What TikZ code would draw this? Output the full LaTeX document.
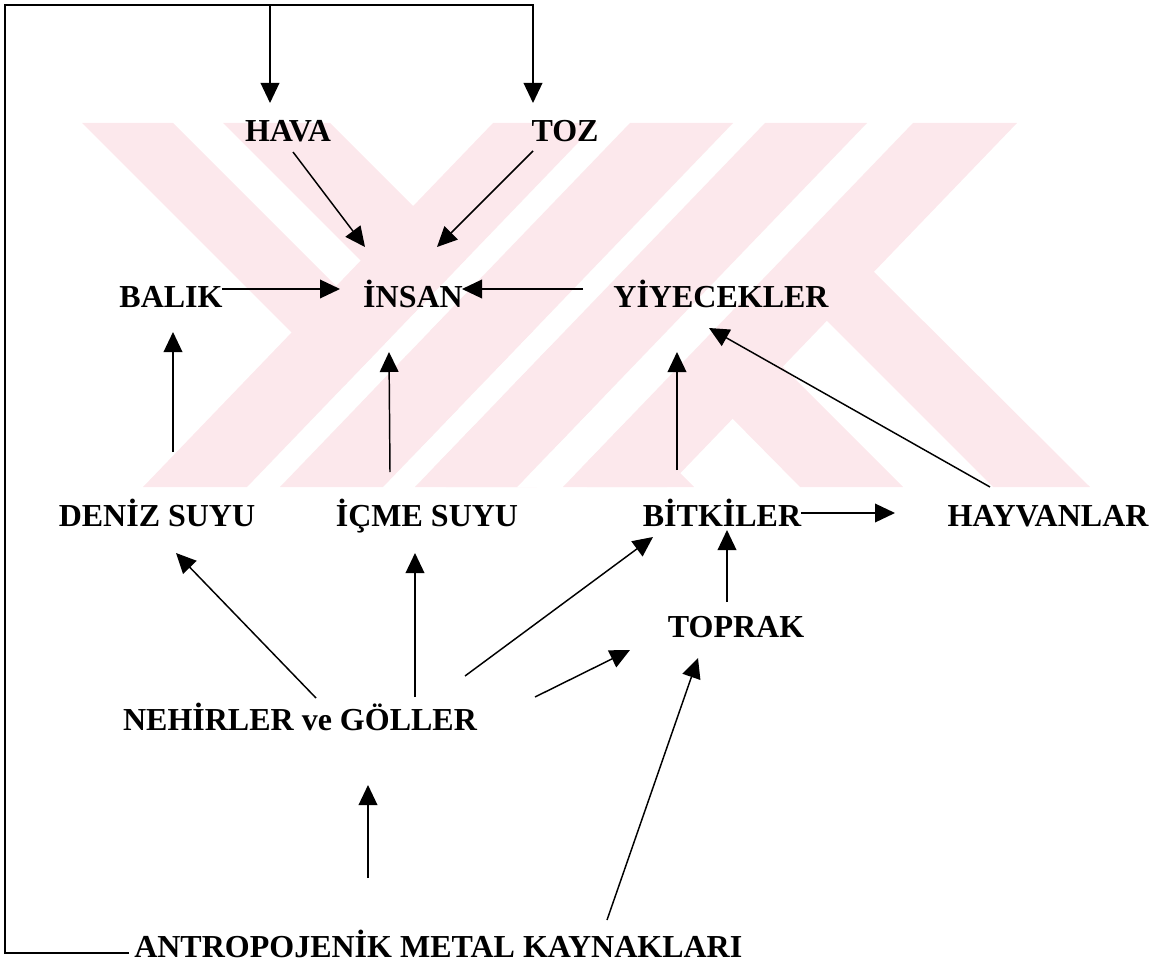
\documentclass[tikz,border=0pt]{standalone}
\usepackage{fontspec}
\setmainfont{Liberation Serif}
\usetikzlibrary{arrows.meta, calc}
\definecolor{wmpink}{RGB}{252,232,236}

\begin{document}
\begin{tikzpicture}[
	x=0.75pt, y=-0.75pt,
	term/.style={inner sep=0pt, anchor=base, font=\bfseries\fontsize{24}{28}\selectfont},
	arrow/.style={-{Triangle[length=15pt, width=14pt]}, line width=1.1pt},
	band/.style={fill=wmpink, draw=none},
	gap/.style={fill=white, draw=none}
	]

	\useasboundingbox (0,0) rectangle (1164,977);

	% Watermark, back stripes
	\fill[band] (82,123) -- (173,123) -- (537,487) -- (446,487) -- cycle;
	\fill[band] (223,123) -- (330,123) -- (694,487) -- (587,487) -- cycle;

	% Watermark, gaps and front stripes
	\fill[gap] (597,123) -- (630,123) -- (280,487) -- (247,487) -- cycle;
	\fill[gap] (733,123) -- (765,123) -- (415,487) -- (383,487) -- cycle;
	\fill[gap] (867,123) -- (913,123) -- (563,487) -- (517,487) -- cycle;
	\fill[band] (493,123) -- (597,123) -- (247,487) -- (143,487) -- cycle;
	\fill[band] (630,123) -- (733,123) -- (383,487) -- (280,487) -- cycle;
	\fill[band] (765,123) -- (867,123) -- (517,487) -- (415,487) -- cycle;
	\fill[band] (913,123) -- (1017,123) -- (667,487) -- (563,487) -- cycle;
	\fill[band] (871,269) -- (1090,487) -- (993,487) -- (823,317) -- cycle;
	\fill[band] (778,362) -- (903,487) -- (800,487) -- (727,413) -- cycle;

	% Terms
	\node[term] (hava) at (288,142) {HAVA};
	\node[term] (toz) at (565,142) {TOZ};
	\node[term] (balik) at (171,307) {BALIK};
	\node[term] (insan) at (413,307) {İNSAN};
	\node[term] (yiyecek) at (721,307) {YİYECEKLER};
	\node[term] (deniz) at (157,526) {DENİZ SUYU};
	\node[term] (icme) at (427,526) {İÇME SUYU};
	\node[term] (bitki) at (722,526) {BİTKİLER};
	\node[term] (hayvan) at (1048,526) {HAYVANLAR};
	\node[term] (toprak) at (736,637) {TOPRAK};
	\node[term] (nehir) at (300,730) {NEHİRLER ve GÖLLER};
	\node[term, anchor=base west] (antro) at (134,957) {ANTROPOJENİK METAL KAYNAKLARI};

	% Loop from the sources back to air and dust
	\coordinate (topL) at (5,5);
	\coordinate (havaIn) at ($(hava.base)+(-18,-39)$);
	\coordinate (tozIn) at ($(toz.base)+(-32,-39)$);
	\draw[arrow] ($(antro.base west)+(-5,-4)$) -| (topL) -| (tozIn);
	\draw[arrow] (havaIn |- topL) -- (havaIn);

	% Into İNSAN
	\draw[arrow] ($(hava.base)+(5,10)$) -- ($(insan.base)+(-48,-60)$);
	\draw[arrow] ($(toz.base)+(-32,9)$) -- ($(insan.base)+(24,-60)$);
	\draw[arrow] ($(balik.base)+(51,-18)$) -- ($(insan.base)+(-73,-18)$);
	\draw[arrow] ($(yiyecek.base)+(-138,-18)$) -- ($(insan.base)+(49,-18)$);
	\draw[arrow] ($(icme.base)+(-37,-54)$) -- ($(insan.base)+(-24,45)$);

	% Middle row
	\draw[arrow] ($(deniz.base)+(16,-74)$) -- ($(balik.base)+(2,25)$);
	\draw[arrow] ($(bitki.base)+(-45,-56)$) -- ($(yiyecek.base)+(-44,45)$);
	\draw[arrow] ($(hayvan.base)+(-58,-39)$) -- ($(yiyecek.base)+(-12,21)$);
	\draw[arrow] ($(bitki.base)+(79,-13)$) -- ($(hayvan.base)+(-153,-13)$);
	\draw[arrow] ($(toprak.base)+(-9,-35)$) -- ($(bitki.base)+(5,4)$);

	% Out of rivers and lakes
	\draw[arrow] ($(nehir.base)+(16,-32)$) -- ($(deniz.base)+(19,27)$);
	\draw[arrow] ($(nehir.base)+(115,-33)$) -- ($(icme.base)+(-12,27)$);
	\draw[arrow] ($(nehir.base)+(165,-54)$) -- ($(bitki.base)+(-69,11)$);
	\draw[arrow] ($(nehir.base)+(235,-33)$) -- ($(toprak.base)+(-106,13)$);

	% From the sources
	\draw[arrow] ($(antro.base west)+(234,-79)$) -- ($(nehir.base)+(68,55)$);
	\draw[arrow] ($(antro.base west)+(473,-37)$) -- ($(toprak.base)+(-38,21)$);

\end{tikzpicture}
\end{document}
